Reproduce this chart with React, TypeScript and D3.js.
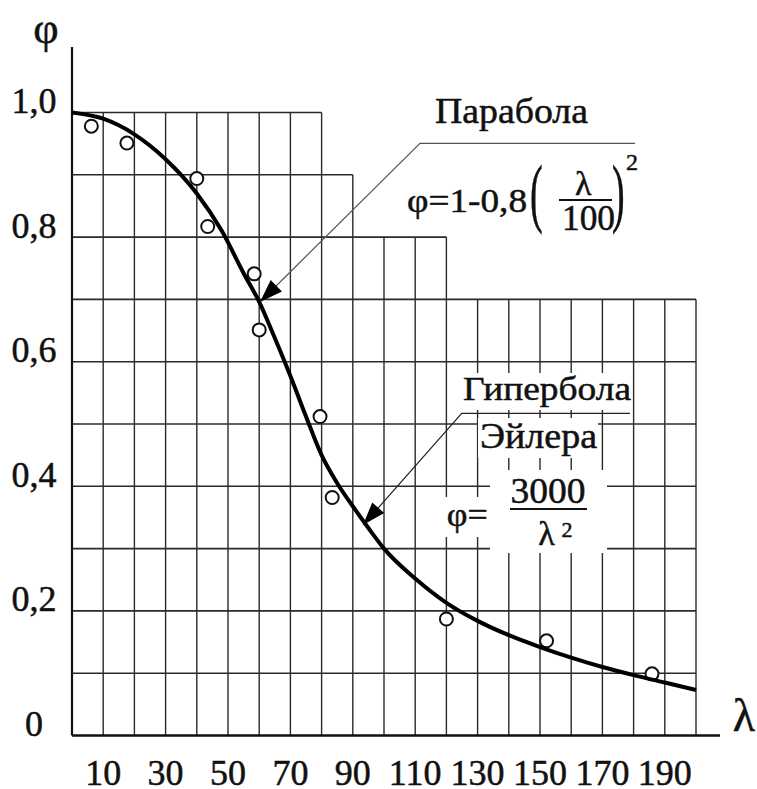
import React from "react";
import * as d3 from "d3";

// ---- data ----
const curveLambda = [0, 10, 20, 30, 40, 48, 55, 60, 65, 70, 75, 80, 85, 90, 95, 100, 110, 120, 130, 140, 150, 160, 170, 180, 190, 200];
const curvePhi = [1.0, 0.99, 0.965, 0.925, 0.87, 0.81, 0.742, 0.696, 0.638, 0.577, 0.512, 0.45, 0.405, 0.368, 0.333, 0.3, 0.252, 0.213, 0.184, 0.161, 0.142, 0.125, 0.11, 0.097, 0.085, 0.073];

const pointLambda = [6.2, 17.6, 40, 43.5, 58.4, 60, 79.5, 83.4, 120, 152.1, 185.9];
const pointPhi = [0.978, 0.951, 0.894, 0.817, 0.741, 0.651, 0.512, 0.382, 0.187, 0.152, 0.099];

const xTicks = [10, 30, 50, 70, 90, 110, 130, 150, 170, 190];
const yTicks = [0, 0.2, 0.4, 0.6, 0.8, 1.0];
const yTickLabels = ["0", "0,2", "0,4", "0,6", "0,8", "1,0"];

// stepped grid outline: columns up to stepX have top stepTop
const stepX = [80, 90, 120, 200];
const stepTop = [1.0, 0.9, 0.8, 0.7];
const gridXs = d3.range(10, 201, 10);
const gridYs = d3.range(1, 11).map((d) => d / 10);

const FONT = "'Liberation Serif', 'Times New Roman', serif";

export default function App() {
  const x = d3.scaleLinear().domain([0, 200]).range([72, 696]);
  const y = d3.scaleLinear().domain([0, 1]).range([735.5, 112.5]);

  const topFor = (lam: number) => {
    for (let i = 0; i < stepX.length; i++) if (lam <= stepX[i] + 1e-9) return stepTop[i];
    return 0;
  };
  const rightFor = (phi: number) => {
    let r = 0;
    for (let i = 0; i < stepX.length; i++) if (stepTop[i] >= phi - 1e-9) r = stepX[i];
    return r;
  };

  const line = d3
    .line<number>()
    .x((_, i) => x(curveLambda[i]))
    .y((d) => y(d))
    .curve(d3.curveMonotoneX);

  const arrowHead = (tx: number, ty: number, fx: number, fy: number, len = 23, hw = 8) => {
    const dx = fx - tx, dy = fy - ty;
    const L = Math.hypot(dx, dy);
    const ux = dx / L, uy = dy / L;
    const bx = tx + ux * len, by = ty + uy * len;
    const px = -uy * hw, py = ux * hw;
    return `M${tx},${ty}L${bx + px},${by + py}L${bx - px},${by - py}Z`;
  };

  const gridColor = "#2a2a2a";
  const ts = { fontFamily: FONT };
  const tp = { fill: "#111", stroke: "#111", strokeWidth: 0.5 };

  return (
    <svg width={757} height={789} style={{ position: "absolute", left: 0, top: 0, background: "#fff" }}>
      <rect x={0} y={0} width={757} height={789} fill="#fff" />
      {/* grid */}
      {gridXs.map((g) => (
        <line key={"vx" + g} x1={x(g)} x2={x(g)} y1={y(0)} y2={y(topFor(g))} stroke={gridColor} strokeWidth={1.4} />
      ))}
      {gridYs.map((g) => (
        <line key={"hy" + g} x1={x(0)} x2={x(rightFor(g))} y1={y(g)} y2={y(g)} stroke={gridColor} strokeWidth={1.6} />
      ))}

      {/* white masks behind labels */}
      <rect x={460} y={373} width={171} height={37} fill="#fff" />
      <rect x={478} y={418} width={120} height={40} fill="#fff" />
      <rect x={443} y={497} width={47} height={40} fill="#fff" />
      <rect x={490} y={470} width={117} height={83} fill="#fff" />

      {/* axes */}
      <line x1={x(0)} x2={x(0)} y1={y(0)} y2={47} stroke="#111" strokeWidth={2.2} />
      <line x1={x(0)} x2={720} y1={y(0)} y2={y(0)} stroke="#111" strokeWidth={2.6} />

      {/* y tick labels */}
      {yTicks.map((t, i) => (
        <text key={"yt" + t} style={ts} x={34} y={y(t) + 0.5} fontSize={36} textAnchor="middle" {...tp}>
          {yTickLabels[i]}
        </text>
      ))}
      {/* x tick labels */}
      {xTicks.map((t) => (
        <text key={"xt" + t} style={ts} x={x(t)} y={785} fontSize={36} textAnchor="middle" {...tp}>
          {String(t)}
        </text>
      ))}

      {/* axis titles */}
      <text style={ts} x={46} y={43} fontSize={44} textAnchor="middle" {...tp}>φ</text>
      <text style={ts} x={744} y={731} fontSize={46} textAnchor="middle" {...tp}>λ</text>

      {/* data points */}
      {pointLambda.map((l, i) => (
        <circle key={"p" + i} cx={x(l)} cy={y(pointPhi[i])} r={6.5} fill="#fff" stroke="#111" strokeWidth={2} />
      ))}

      {/* curve */}
      <path d={line(curvePhi) || ""} fill="none" stroke="#000" strokeWidth={4} />

      {/* Parabola leader */}
      <polyline points="635,143.3 420,143.3 270,292" fill="none" stroke="#555" strokeWidth={1.2} />
      <path d={arrowHead(260, 302, 420, 143.3)} fill="#000" />
      {/* Hyperbola leader */}
      <polyline points="630,413.3 461.7,413.3 372,515" fill="none" stroke="#222" strokeWidth={1.2} />
      <path d={arrowHead(363, 525, 461.7, 413.3)} fill="#000" />

      {/* Parabola label */}
      <text style={ts} x={435} y={123.3} fontSize={35} textLength={153} lengthAdjust="spacingAndGlyphs" {...tp}>Парабола</text>
      <text style={ts} x={407} y={211.5} fontSize={34} textLength={120} lengthAdjust="spacingAndGlyphs" {...tp}>φ=1-0,8</text>
      <text style={ts} transform="translate(530,217.5) scale(1,2)" fontSize={38} {...tp} strokeWidth={0.3}>(</text>
      <text style={ts} transform="translate(612,217.5) scale(1,2)" fontSize={38} {...tp} strokeWidth={0.3}>)</text>
      <text style={ts} x={583.3} y={195} fontSize={34} textAnchor="middle" {...tp}>λ</text>
      <line x1={559} x2={612} y1={200} y2={200} stroke="#111" strokeWidth={1.8} />
      <text style={ts} x={562} y={230} fontSize={35} textLength={53} lengthAdjust="spacingAndGlyphs" {...tp}>100</text>
      <text style={ts} x={626} y={170} fontSize={24} {...tp}>2</text>

      {/* Hyperbola label */}
      <text style={ts} x={463} y={400} fontSize={34} textLength={168} lengthAdjust="spacingAndGlyphs" {...tp}>Гипербола</text>
      <text style={ts} x={480} y={448} fontSize={35} textLength={117} lengthAdjust="spacingAndGlyphs" {...tp}>Эйлера</text>
      <text style={ts} x={446.7} y={526} fontSize={34} textLength={41} lengthAdjust="spacingAndGlyphs" {...tp}>φ=</text>
      <text style={ts} x={510.5} y={503.3} fontSize={35} textLength={75} lengthAdjust="spacingAndGlyphs" {...tp}>3000</text>
      <line x1={510} x2={587} y1={509} y2={509} stroke="#111" strokeWidth={1.8} />
      <text style={ts} x={546.5} y={545} fontSize={34} textAnchor="middle" {...tp}>λ</text>
      <text style={ts} x={561.5} y={536.7} fontSize={22} {...tp}>2</text>
    </svg>
  );
}
